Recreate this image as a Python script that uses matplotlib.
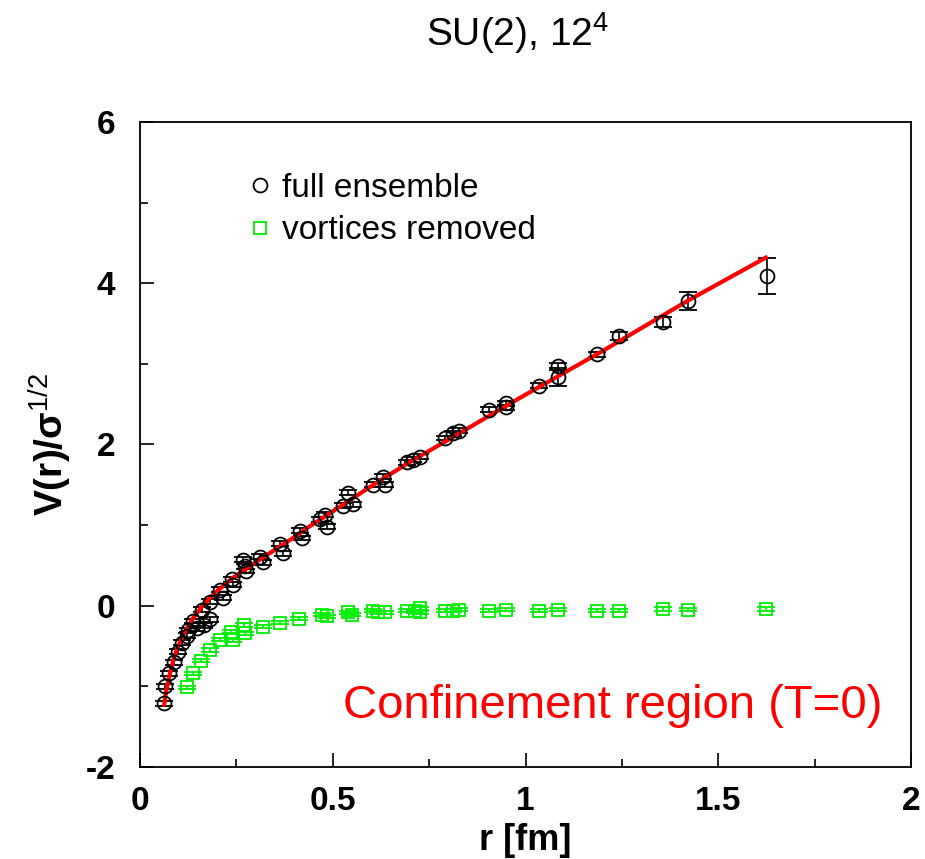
import matplotlib
matplotlib.use("Agg")
import matplotlib.pyplot as plt
from matplotlib.lines import Line2D
from matplotlib.ticker import MultipleLocator

plt.rcParams['font.family'] = ['Liberation Sans', 'DejaVu Sans']
plt.rcParams['mathtext.fontset'] = 'custom'
plt.rcParams['mathtext.rm'] = 'Liberation Sans'
plt.rcParams['mathtext.bf'] = 'Liberation Sans:bold'

# full ensemble
r_full = [0.062, 0.064, 0.075, 0.088, 0.098, 0.110, 0.121, 0.124, 0.138, 0.147,
          0.160, 0.165, 0.182, 0.182, 0.208, 0.216, 0.238, 0.242, 0.268, 0.272,
          0.275, 0.311, 0.320, 0.363, 0.372, 0.415, 0.421, 0.467, 0.480, 0.484,
          0.527, 0.540, 0.553, 0.605, 0.631, 0.636, 0.692, 0.709, 0.725, 0.791,
          0.813, 0.828, 0.905, 0.949, 0.949, 1.036, 1.085, 1.085, 1.185, 1.243,
          1.356, 1.422, 1.627]
v_full = [-1.21, -1.00, -0.84, -0.70, -0.57, -0.46, -0.37, -0.30, -0.19, -0.28,
          -0.05, -0.24, 0.05, -0.17, 0.20, 0.10, 0.33, 0.26, 0.57, 0.49,
          0.43, 0.61, 0.54, 0.77, 0.65, 0.93, 0.84, 1.07, 1.13, 0.98,
          1.24, 1.40, 1.26, 1.50, 1.60, 1.50, 1.78, 1.81, 1.85, 2.08,
          2.14, 2.17, 2.43, 2.51, 2.46, 2.73, 2.97, 2.84, 3.12, 3.35,
          3.52, 3.78, 4.09]
e_full = [0.03] * 46 + [0.04, 0.11, 0.03, 0.05, 0.06, 0.11, 0.22]

# vortices removed
r_vr = [0.121, 0.137, 0.157, 0.182, 0.208, 0.235, 0.242, 0.270, 0.272, 0.318,
        0.363, 0.413, 0.471, 0.484, 0.540, 0.549, 0.605, 0.618, 0.636, 0.692,
        0.713, 0.726, 0.726, 0.791, 0.813, 0.828, 0.906, 0.949, 1.036, 1.085,
        1.185, 1.243, 1.356, 1.422, 1.625]
v_vr = [-1.01, -0.84, -0.68, -0.55, -0.42, -0.32, -0.43, -0.24, -0.34, -0.26,
        -0.21, -0.16, -0.11, -0.13, -0.08, -0.11, -0.06, -0.08, -0.08, -0.06,
        -0.07, -0.03, -0.08, -0.06, -0.06, -0.05, -0.06, -0.05, -0.06, -0.05,
        -0.06, -0.06, -0.04, -0.05, -0.04]
e_vr = [0.02] * len(r_vr)

# fit curve
r_fit = [0.062, 0.068, 0.078, 0.086, 0.095, 0.112, 0.138, 0.164, 0.199, 0.242,
         0.285, 0.329, 0.400, 0.432, 0.519, 0.605, 0.692, 0.800, 0.986, 1.200,
         1.427, 1.628]
v_fit = [-1.25, -1.05, -0.83, -0.68, -0.55, -0.36, -0.15, 0.01, 0.18, 0.35,
         0.49, 0.63, 0.85, 0.96, 1.23, 1.50, 1.76, 2.06, 2.58, 3.16,
         3.80, 4.33]

x_ticks = [0, 0.5, 1, 1.5, 2]
x_labels = ['0', '0.5', '1', '1.5', '2']
y_ticks = [-2, 0, 2, 4, 6]
y_labels = ['-2', '0', '2', '4', '6']

fig = plt.figure(figsize=(9.25, 8.59), dpi=100)
ax = fig.add_axes([0.1514, 0.1071, 0.8335, 0.7509])

green = '#00ee00'
ax.errorbar(r_vr, v_vr, yerr=e_vr, fmt='s', ms=8, mfc='none', mec=green,
            mew=1.3, ecolor=green, elinewidth=1.2, capsize=6.5, capthick=1.2)
ax.errorbar(r_full, v_full, yerr=e_full, fmt='o', ms=10, mfc='none', mec='black',
            mew=1.3, ecolor='black', elinewidth=1.2, capsize=6.5, capthick=1.2)
ax.plot(r_fit, v_fit, color='#ff0000', lw=3, solid_capstyle='butt')

ax.set_xlim(0, 2)
ax.set_ylim(-2, 6)
ax.xaxis.set_minor_locator(MultipleLocator(0.25))
ax.yaxis.set_minor_locator(MultipleLocator(1))
ax.set_xticks(x_ticks)
ax.set_xticklabels(x_labels)
ax.set_yticks(y_ticks)
ax.set_yticklabels(y_labels)
ax.tick_params(which='both', direction='in', labelsize=24, width=1.2)
ax.tick_params(which='major', length=10)
ax.tick_params(which='minor', length=6)
ax.tick_params(axis='x', pad=14)
ax.tick_params(axis='y', pad=18)
for lab in ax.get_xticklabels() + ax.get_yticklabels():
    lab.set_fontweight('bold')
for s in ax.spines.values():
    s.set_linewidth(1.3)

ax.set_xlabel('r [fm]', fontsize=26, fontweight='bold', labelpad=4)
ax.set_ylabel(r'V(r)/σ$^{1/2}$', fontsize=28, fontweight='bold', labelpad=8)
fig.text(0.56, 0.962, r'SU(2), 12$^{4}$', fontsize=28, ha='center', va='center')

handles = [Line2D([], [], ls='none', marker='o', ms=10, mfc='none', mec='black', mew=1.3),
           Line2D([], [], ls='none', marker='s', ms=8, mfc='none', mec=green, mew=1.3)]
ax.legend(handles, ['full ensemble', 'vortices removed'], loc='upper left',
          bbox_to_anchor=(0.1, 0.968), frameon=False, fontsize=24,
          handlelength=0.8, handletextpad=0.25, labelspacing=0.35)

ax.text(0.963, 0.095, 'Confinement region (T=0)', transform=ax.transAxes,
        color='#ff0000', fontsize=34, ha='right', va='center')

fig.savefig('out.png', dpi=100)
